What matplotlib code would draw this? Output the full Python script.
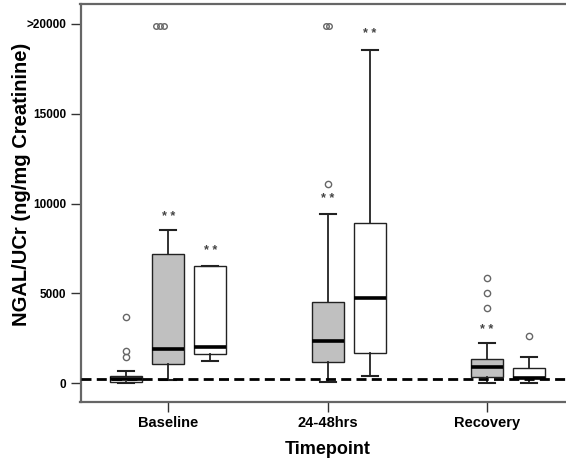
import matplotlib
matplotlib.use("Agg")
import matplotlib.pyplot as plt

plt.rcParams['font.family'] = ['Liberation Sans', 'DejaVu Sans']

# ---- data ----
timepoints = ["Baseline", "24-48hrs", "Recovery"]
y_ticks = [0, 5000, 10000, 15000, 20000]
y_tick_labels = ["0", "5000", "10000", "15000", ">20000"]
reference_line = 220

# each box: timepoint index, group slot (-1 control, 0 grey group, 1 white group)
box_time = [0, 0, 0, 1, 1, 2, 2]
box_slot = [-1, 0, 1, 0, 1, 0, 1]
box_fill = ["white", "#c0c0c0", "white", "#c0c0c0", "white", "#c0c0c0", "white"]
whislo = [20, 170, 1220, 70, 400, 20, 20]
q1 = [60, 1040, 1590, 1180, 1650, 350, 260]
med = [200, 1890, 2020, 2350, 4740, 870, 290]
q3 = [390, 7170, 6520, 4520, 8900, 1315, 815]
whishi = [680, 8500, 6520, 9390, 18560, 2240, 1460]
outliers = [[1450, 1800, 3680], [], [], [11100], [], [4200, 5020, 5850], [2630]]
# values above 20000 plotted at the ">20000" row, with sideways shift (in boxes)
capped_box = [1, 1, 1, 3, 3]
capped_shift = [-0.078, -0.05, -0.025, -0.012, 0.01]
capped_value = 19900
star_box = [1, 2, 3, 4, 5]
star_value = [9250, 7370, 10250, 19420, 2950]

# ---- layout ----
slot_offset = 0.263
box_width = 0.2
W, H = 566, 466
fig = plt.figure(figsize=(W / 100, H / 100), dpi=100)
ax = fig.add_axes([80.5 / W, 64 / H, 1 - 80.5 / W, (402 - 4) / H])

positions = [t + s * slot_offset for t, s in zip(box_time, box_slot)]
stats = []
for i in range(len(positions)):
    stats.append(dict(whislo=whislo[i], q1=q1[i], med=med[i], q3=q3[i],
                      whishi=whishi[i], fliers=[]))

bp = ax.bxp(stats, positions=positions, widths=box_width, patch_artist=True,
            showfliers=False, manage_ticks=False,
            boxprops=dict(edgecolor="#222222", linewidth=1.0),
            medianprops=dict(color="black", linewidth=2.6, solid_capstyle="butt"),
            whiskerprops=dict(color="#222222", linewidth=1.3),
            capprops=dict(color="#222222", linewidth=1.5))
for patch, fc in zip(bp["boxes"], box_fill):
    patch.set_facecolor(fc)

for i, vals in enumerate(outliers):
    if vals:
        ax.plot([positions[i]] * len(vals), vals, linestyle="none", marker="o",
                markersize=4.5, markerfacecolor="none", markeredgecolor="#666666",
                markeredgewidth=1.0, zorder=4)
for b, sh in zip(capped_box, capped_shift):
    ax.plot(positions[b] + sh, capped_value, linestyle="none", marker="o",
            markersize=4.0, markerfacecolor="none", markeredgecolor="#666666",
            markeredgewidth=1.0, zorder=4)
for b, v in zip(star_box, star_value):
    ax.text(positions[b], v, "* *", ha="center", va="center", fontsize=9,
            fontweight="bold", color="#444444")

ax.axhline(reference_line, color="black", linewidth=2.0, dashes=(3.6, 1.9), zorder=5)

ax.set_xlim(-0.55, 2.495)
ax.set_ylim(-1058, 21114)
ax.set_xticks(range(len(timepoints)))
ax.set_xticklabels(timepoints, fontsize=10.5, fontweight="bold")
ax.set_yticks(y_ticks)
ax.set_yticklabels(y_tick_labels, fontsize=8.5, fontweight="bold")
ax.tick_params(axis="both", direction="out", length=7, width=1.0, color="#333333", pad=3)
for side in ["left", "top", "bottom"]:
    ax.spines[side].set_color("#666666")
    ax.spines[side].set_linewidth(1.6)
ax.spines["right"].set_visible(False)

fig.text(328 / W, 1 - 449 / H, "Timepoint", ha="center", va="center",
         fontsize=13, fontweight="bold")
fig.text(22 / W, 1 - 184 / H, "NGAL/UCr (ng/mg Creatinine)", ha="center", va="center",
         rotation=90, fontsize=14.5, fontweight="bold")

fig.savefig("out.png", dpi=100)
